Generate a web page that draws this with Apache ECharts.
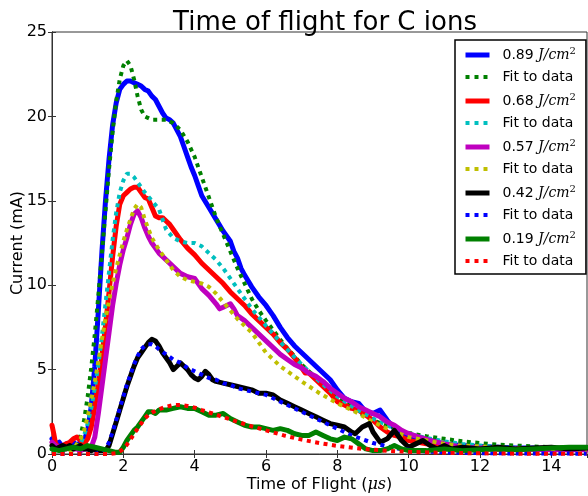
<!DOCTYPE html>
<html><head><meta charset="utf-8">
<script src="https://cdn.jsdelivr.net/npm/echarts@6/dist/echarts.min.js"></script>
<style>html,body{margin:0;padding:0;background:#fff}#c{width:588px;height:496px}</style>
</head><body><div id="c"></div>
<script>
const xTicks = [0, 2, 4, 6, 8, 10, 12, 14];
const yTicks = [0, 5, 10, 15, 20, 25];
const legendNames = ['0.89', 'fit0.89', '0.68', 'fit0.68', '0.57', 'fit0.57', '0.42', 'fit0.42', '0.19', 'fit0.19'];

const data089 = [[0,0.9],[0.1,0.6],[0.2,0.7],[0.3,0.4],[0.4,0.6],[0.5,0.5],[0.6,0.7],[0.7,0.5],[0.8,0.7],[0.9,0.8],[1.0,1.4],[1.1,2.8],[1.2,5.2],[1.3,8.5],[1.4,12],[1.5,15],[1.6,17.5],[1.7,19.5],[1.8,20.8],[1.9,21.6],[2.0,21.9],[2.1,22.1],[2.2,22.1],[2.3,22.0],[2.4,21.9],[2.5,21.8],[2.6,21.6],[2.7,21.5],[2.8,21.2],[2.9,21.0],[3.0,20.6],[3.1,20.2],[3.2,19.9],[3.3,19.8],[3.4,19.6],[3.5,19.2],[3.6,18.8],[3.7,18.2],[3.8,17.6],[3.9,17.0],[4.0,16.5],[4.1,15.9],[4.2,15.3],[4.4,14.6],[4.6,13.9],[4.8,13.2],[5.0,12.6],[5.1,12.0],[5.2,11.6],[5.3,11.0],[5.4,10.6],[5.6,9.9],[5.8,9.3],[6.0,8.8],[6.2,8.2],[6.4,7.5],[6.6,6.9],[6.8,6.4],[7.0,6.0],[7.2,5.6],[7.4,5.2],[7.6,4.8],[7.8,4.4],[8.0,3.8],[8.2,3.3],[8.4,3.1],[8.6,3.0],[8.8,2.5],[9.0,2.4],[9.2,2.6],[9.4,2.0],[9.6,1.5],[9.8,1.2],[10.0,1.0],[10.3,0.9],[10.6,0.8],[11,0.6],[11.5,0.5],[12,0.45],[12.5,0.4],[13,0.35],[13.5,0.35],[14,0.3],[14.5,0.3],[15,0.3]];
const fit089 = [[0,0.05],[0.4,0.1],[0.6,0.3],[0.7,0.6],[0.8,1.1],[0.9,2.0],[1.0,3.4],[1.1,5.1],[1.2,7.1],[1.3,9.4],[1.4,11.9],[1.5,14.4],[1.6,16.9],[1.7,19.1],[1.8,20.9],[1.9,22.2],[2.0,23.0],[2.1,23.3],[2.2,23.0],[2.3,22.2],[2.4,21.2],[2.5,20.4],[2.6,20.0],[2.8,19.8],[3.0,19.8],[3.2,19.8],[3.4,19.6],[3.6,19.2],[3.8,18.5],[4.0,17.6],[4.2,16.4],[4.4,15.2],[4.6,14.0],[4.8,13.0],[5.0,12.0],[5.2,11.0],[5.4,10.1],[5.6,9.2],[5.8,8.5],[6.0,7.9],[6.5,6.5],[7.0,5.3],[7.5,4.3],[8.0,3.4],[8.5,2.6],[9.0,2.0],[9.5,1.6],[10,1.25],[10.5,1.05],[11,0.9],[11.5,0.75],[12,0.65],[12.5,0.55],[13,0.5],[13.5,0.45],[14,0.4],[14.5,0.37],[15,0.35]];
const data068 = [[0,1.7],[0.05,1.2],[0.1,0.6],[0.2,0.4],[0.3,0.5],[0.4,0.6],[0.5,0.7],[0.6,0.9],[0.7,1.0],[0.8,0.8],[0.9,0.6],[1.0,0.9],[1.1,1.6],[1.2,2.8],[1.3,4.2],[1.4,5.8],[1.5,7.6],[1.6,9.6],[1.7,11.7],[1.8,13.5],[1.9,14.8],[2.0,15.3],[2.1,15.5],[2.2,15.7],[2.3,15.8],[2.4,15.8],[2.5,15.5],[2.6,15.2],[2.7,15.1],[2.8,14.6],[2.9,14.1],[3.0,14.0],[3.1,14.0],[3.2,13.8],[3.3,13.6],[3.4,13.3],[3.6,12.7],[3.8,12.2],[4.0,11.8],[4.2,11.3],[4.4,10.9],[4.6,10.5],[4.8,10.1],[5.0,9.6],[5.2,9.2],[5.4,8.8],[5.6,8.3],[5.8,7.9],[6.0,7.5],[6.2,7.1],[6.4,6.6],[6.6,6.2],[6.8,5.7],[7.0,5.1],[7.1,4.8],[7.2,4.8],[7.4,4.4],[7.6,4.0],[7.8,3.6],[8.0,3.1],[8.2,2.9],[8.4,2.7],[8.6,2.6],[8.8,2.3],[9.0,2.0],[9.2,1.6],[9.4,1.3],[9.6,1.1],[9.8,1.0],[10,0.8],[10.5,0.6],[11,0.5],[11.5,0.4],[12,0.4],[12.5,0.3],[13,0.3],[13.5,0.3],[14,0.3],[14.5,0.25],[15,0.3]];
const fit068 = [[0,0],[0.5,0.1],[0.7,0.3],[0.8,0.6],[0.9,1.1],[1.0,1.8],[1.1,2.7],[1.2,3.9],[1.3,5.3],[1.4,7.0],[1.5,8.9],[1.6,10.8],[1.7,12.7],[1.8,14.3],[1.9,15.5],[2.0,16.2],[2.1,16.6],[2.2,16.6],[2.3,16.4],[2.4,16.1],[2.6,15.5],[2.8,15.0],[3.0,14.5],[3.2,13.3],[3.4,12.8],[3.6,12.6],[3.8,12.5],[4.0,12.5],[4.2,12.3],[4.4,11.9],[4.6,11.5],[4.8,11.0],[5.0,10.4],[5.2,9.8],[5.4,9.2],[5.6,8.6],[5.8,8.1],[6.0,7.6],[6.5,6.4],[7.0,5.3],[7.5,4.3],[8.0,3.4],[8.5,2.7],[9.0,2.1],[9.5,1.6],[10,1.2],[10.5,0.95],[11,0.75],[11.5,0.6],[12,0.5],[12.5,0.4],[13,0.35],[14,0.3],[15,0.25]];
const data057 = [[0,0.7],[0.1,0.5],[0.2,0.4],[0.3,0.3],[0.4,0.3],[0.5,0.4],[0.6,0.3],[0.7,0.3],[0.8,0.2],[0.9,0.3],[1.0,0.3],[1.1,0.4],[1.2,1.0],[1.3,2.4],[1.4,4.0],[1.5,5.6],[1.6,7.2],[1.7,8.8],[1.8,10.1],[1.9,11.2],[2.0,12.1],[2.1,12.8],[2.2,13.6],[2.3,14.2],[2.4,14.4],[2.5,14.0],[2.6,13.4],[2.7,12.9],[2.8,12.5],[2.9,12.2],[3.0,11.9],[3.2,11.5],[3.4,11.1],[3.6,10.7],[3.8,10.5],[4.0,10.4],[4.1,10.1],[4.2,9.8],[4.4,9.4],[4.6,8.9],[4.7,8.6],[4.8,8.7],[5.0,8.9],[5.1,8.6],[5.2,8.2],[5.4,7.9],[5.6,7.5],[5.8,7.1],[6.0,6.7],[6.2,6.3],[6.4,5.9],[6.6,5.6],[6.8,5.3],[7.0,5.1],[7.2,4.8],[7.4,4.6],[7.6,4.3],[7.8,3.9],[8.0,3.6],[8.2,3.3],[8.4,3.1],[8.6,2.8],[8.8,2.6],[9.0,2.4],[9.2,2.2],[9.4,1.9],[9.6,1.7],[9.8,1.4],[10,1.2],[10.3,1.0],[10.6,0.8],[11,0.6],[11.5,0.4],[12,0.35],[12.5,0.3],[13,0.3],[14,0.25],[15,0.25]];
const fit057 = [[0,0],[0.4,0.1],[0.6,0.3],[0.7,0.6],[0.8,0.9],[0.9,1.4],[1.0,2.2],[1.1,3.2],[1.2,4.3],[1.3,5.5],[1.4,6.8],[1.5,8.0],[1.6,9.1],[1.7,10.1],[1.8,11.0],[1.9,11.8],[2.0,12.6],[2.1,13.3],[2.2,13.9],[2.3,14.5],[2.4,14.8],[2.5,14.6],[2.6,13.9],[2.8,12.8],[3.0,12.1],[3.2,11.5],[3.4,10.9],[3.6,10.5],[3.8,10.3],[4.0,10.2],[4.2,10.1],[4.4,9.9],[4.6,9.5],[4.8,9.0],[5.0,8.5],[5.2,8.0],[5.4,7.6],[5.6,7.2],[5.8,6.6],[6.0,6.0],[6.2,5.6],[6.4,5.2],[6.6,4.9],[7.0,4.3],[7.5,3.6],[8.0,3.0],[8.5,2.5],[9.0,1.9],[9.5,1.4],[10,1.0],[10.5,0.8],[11,0.6],[11.5,0.5],[12,0.45],[12.5,0.4],[13,0.35],[14,0.3],[15,0.25]];
const data042 = [[0,0.5],[0.1,0.3],[0.2,0.4],[0.3,0.5],[0.4,0.4],[0.5,0.5],[0.6,0.3],[0.7,0.4],[0.8,0.5],[0.9,0.3],[1.0,0.3],[1.1,0.2],[1.2,0.3],[1.3,0.2],[1.4,0.2],[1.5,0.2],[1.6,0.5],[1.7,1.2],[1.8,1.9],[1.9,2.6],[2.0,3.3],[2.1,4.0],[2.2,4.6],[2.3,5.2],[2.4,5.7],[2.5,6.0],[2.6,6.3],[2.7,6.6],[2.8,6.8],[2.9,6.7],[3.0,6.4],[3.1,6.0],[3.2,5.7],[3.3,5.4],[3.4,5.0],[3.5,5.2],[3.6,5.4],[3.7,5.2],[3.8,5.0],[3.9,4.7],[4.0,4.5],[4.1,4.4],[4.2,4.6],[4.3,4.9],[4.4,4.7],[4.5,4.4],[4.6,4.3],[4.8,4.2],[5.0,4.1],[5.2,4.0],[5.4,3.9],[5.6,3.8],[5.8,3.6],[6.0,3.6],[6.2,3.5],[6.4,3.2],[6.6,3.0],[6.8,2.8],[7.0,2.6],[7.2,2.4],[7.4,2.2],[7.6,2.0],[7.8,1.8],[8.0,1.7],[8.2,1.6],[8.4,1.3],[8.5,1.2],[8.7,1.6],[8.9,1.8],[9.0,1.3],[9.2,0.7],[9.4,0.9],[9.6,1.4],[9.8,0.8],[10,0.4],[10.2,0.6],[10.4,0.8],[10.6,0.5],[10.8,0.3],[11,0.5],[11.2,0.3],[11.5,0.4],[12,0.3],[12.5,0.4],[13,0.3],[13.5,0.35],[14,0.4],[14.5,0.3],[15,0.35]];
const fit042 = [[0,0],[1.2,0],[1.4,0.1],[1.5,0.3],[1.6,0.7],[1.7,1.3],[1.8,2.0],[1.9,2.7],[2.0,3.4],[2.1,4.1],[2.2,4.7],[2.3,5.3],[2.4,5.8],[2.5,6.2],[2.6,6.4],[2.7,6.5],[2.8,6.5],[2.9,6.4],[3.0,6.2],[3.2,5.9],[3.4,5.6],[3.6,5.4],[3.8,5.1],[4.0,4.9],[4.2,4.7],[4.4,4.5],[4.6,4.4],[4.8,4.2],[5.0,4.1],[5.2,3.9],[5.4,3.8],[5.6,3.7],[5.8,3.6],[6.0,3.5],[6.2,3.3],[6.4,3.1],[6.6,2.9],[6.8,2.7],[7.0,2.5],[7.2,2.3],[7.4,2.1],[7.6,1.9],[7.8,1.7],[8.0,1.5],[8.2,1.3],[8.4,1.1],[8.6,0.95],[8.8,0.8],[9.0,0.65],[9.2,0.55],[9.4,0.45],[9.6,0.35],[10,0.25],[10.5,0.15],[11,0.1],[12,0.05],[13,0.03],[15,0.02]];
const data019 = [[0,0.3],[0.2,0.2],[0.4,0.3],[0.6,0.4],[0.8,0.3],[1.0,0.5],[1.2,0.4],[1.4,0.3],[1.6,0.2],[1.8,0.1],[1.9,0.1],[2.0,0.4],[2.1,0.8],[2.2,1.1],[2.3,1.4],[2.4,1.6],[2.5,1.9],[2.6,2.2],[2.7,2.5],[2.8,2.5],[2.9,2.4],[3.0,2.6],[3.2,2.6],[3.4,2.7],[3.6,2.8],[3.8,2.7],[4.0,2.7],[4.2,2.5],[4.4,2.3],[4.6,2.3],[4.8,2.4],[5.0,2.1],[5.2,1.9],[5.4,1.7],[5.6,1.6],[5.8,1.6],[6.0,1.5],[6.2,1.4],[6.4,1.5],[6.6,1.4],[6.8,1.2],[7.0,1.1],[7.2,1.1],[7.4,1.3],[7.6,1.1],[7.8,0.9],[8.0,0.8],[8.2,1.0],[8.4,0.9],[8.6,0.6],[8.8,0.3],[9.0,0.2],[9.2,0.2],[9.4,0.3],[9.6,0.5],[9.8,0.3],[10,0.2],[10.5,0.2],[11,0.3],[11.5,0.2],[12,0.25],[12.5,0.3],[13,0.25],[13.5,0.3],[14,0.35],[14.5,0.4],[15,0.4]];
const fit019 = [[0,0],[1.6,0],[1.8,0.05],[1.9,0.15],[2.0,0.3],[2.1,0.55],[2.2,0.85],[2.3,1.2],[2.4,1.5],[2.5,1.8],[2.6,2.1],[2.7,2.3],[2.8,2.45],[3.0,2.65],[3.2,2.8],[3.4,2.9],[3.6,2.9],[3.8,2.85],[4.0,2.75],[4.2,2.6],[4.5,2.4],[5.0,2.05],[5.5,1.7],[6.0,1.4],[6.5,1.1],[7.0,0.85],[7.5,0.65],[8.0,0.48],[8.5,0.35],[9.0,0.25],[9.5,0.18],[10,0.13],[11,0.07],[12,0.04],[13,0.02],[15,0.01]];

const seriesData = [data089, fit089, data068, fit068, data057, fit057, data042, fit042, data019, fit019];
const colors = ['#0000ff', '#008000', '#ff0000', '#00bfbf', '#bf00bf', '#bfbf00', '#000000', '#0000ff', '#008000', '#ff0000'];

const FONT = 'DejaVu Sans';
const AXC = '#333';
const series = seriesData.map((d, i) => {
  const dotted = i % 2 === 1;
  return {
    name: legendNames[i],
    type: 'line',
    data: d,
    symbol: 'none',
    showSymbol: false,
    smooth: false,
    animation: false,
    z: 2 + i,
    lineStyle: dotted
      ? { color: colors[i], width: 4, type: [4, 4.5], cap: 'butt' }
      : { color: colors[i], width: 5, join: 'round', cap: 'round' },
    itemStyle: { color: colors[i] }
  };
});

const legendData = legendNames.map((n, i) => ({
  name: n,
  itemStyle: { opacity: 0 },
  lineStyle: i % 2 === 1
    ? { color: colors[i], width: 4, type: [4, 5], cap: 'butt' }
    : { color: colors[i], width: 5, type: 'solid', cap: 'butt' }
}));

const chart = echarts.init(document.getElementById('c'), null, { renderer: 'canvas' });
chart.setOption({
  animation: false,
  backgroundColor: '#fff',
  title: {
    text: 'Time of flight for C ions',
    left: 320, top: 5, textAlign: 'center',
    textStyle: { fontFamily: FONT, fontSize: 26, fontWeight: 'normal', color: '#000' }
  },
  grid: { left: 52, right: 1, top: 32, bottom: 42, outerBoundsMode: 'none', containLabel: false, show: true, borderColor: AXC, borderWidth: 1, backgroundColor: 'transparent' },
  legend: {
    data: legendData,
    orient: 'vertical',
    left: 455, top: 40,
    itemWidth: 24, itemHeight: 14, itemGap: 8,
    padding: [6, 10, 6, 8],
    backgroundColor: '#fff',
    borderColor: '#000', borderWidth: 1.5,
    itemStyle: { opacity: 0 },
    selectedMode: false,
    formatter: function (n) {
      return n.indexOf('fit') === 0 ? '{a|Fit to data}' : '{a|' + n + ' }{i|J/cm}{s|2}';
    },
    textStyle: {
      fontFamily: FONT, fontSize: 14, color: '#000',
      rich: {
        a: { fontFamily: FONT, fontSize: 14, color: '#000', padding: [0, 0, 0, 8] },
        i: { fontFamily: 'DejaVu Serif', fontStyle: 'italic', fontSize: 14, color: '#000' },
        s: { fontFamily: 'DejaVu Serif', fontSize: 10, color: '#000', verticalAlign: 'top', padding: [0, 0, 8, 0] }
      }
    }
  },
  xAxis: [{
    type: 'value', min: 0, max: 15, interval: 2,
    name: '{n|Time of Flight (}{i|μs}{n|)}', nameLocation: 'middle', nameGap: 23, nameMoveOverlap: false,
    nameTextStyle: { rich: {
      n: { fontFamily: FONT, fontSize: 16, color: '#000' },
      i: { fontFamily: 'DejaVu Serif', fontStyle: 'italic', fontSize: 16, color: '#000' }
    } },
    axisLine: { show: true, lineStyle: { color: AXC, width: 1 } },
    axisTick: { show: true, inside: true, length: 4, lineStyle: { color: AXC } },
    axisLabel: { showMaxLabel: false, fontFamily: FONT, fontSize: 16, color: '#000', margin: 5 },
    splitLine: { show: false }
  }, {
    type: 'value', min: 0, max: 15, interval: 2, position: 'top',
    axisLine: { show: true, lineStyle: { color: AXC, width: 1 } },
    axisTick: { show: true, inside: true, length: 4, lineStyle: { color: AXC } },
    axisLabel: { show: false }, splitLine: { show: false }
  }],
  yAxis: [{
    type: 'value', min: 0, max: 25, interval: 5,
    name: 'Current (mA)', nameLocation: 'middle', nameGap: 26, nameMoveOverlap: false,
    nameTextStyle: { fontFamily: FONT, fontSize: 16, color: '#000' },
    axisLine: { show: true, lineStyle: { color: AXC, width: 1 } },
    axisTick: { show: true, inside: true, length: 4, lineStyle: { color: AXC } },
    axisLabel: { fontFamily: FONT, fontSize: 16, color: '#000', margin: 5 },
    splitLine: { show: false }
  }, {
    type: 'value', min: 0, max: 25, interval: 5, position: 'right',
    axisLine: { show: true, lineStyle: { color: AXC, width: 1 } },
    axisTick: { show: true, inside: true, length: 4, lineStyle: { color: AXC } },
    axisLabel: { show: false }, splitLine: { show: false }
  }],
  series: series
});
</script></body></html>
